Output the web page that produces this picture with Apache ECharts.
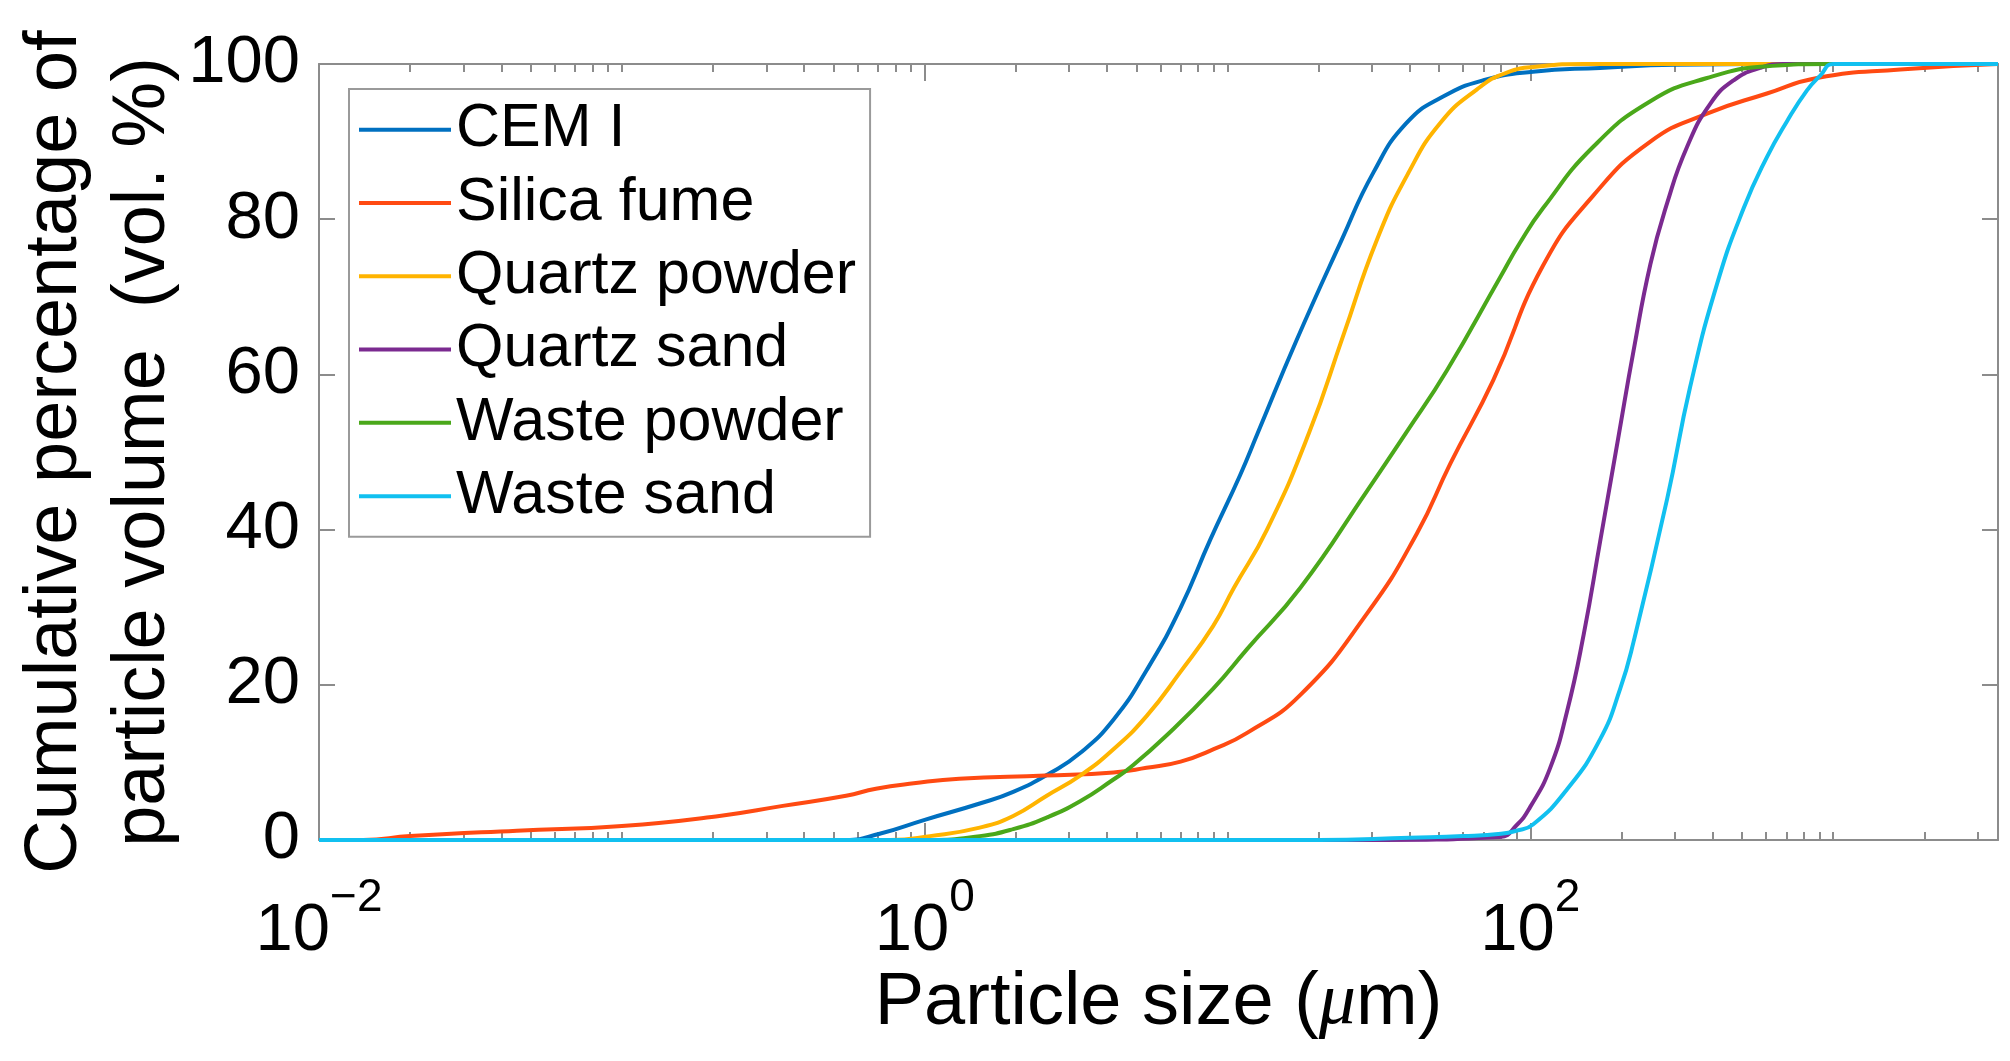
<!DOCTYPE html>
<html>
<head>
<meta charset="utf-8">
<title>Particle size distribution</title>
<style>
  html, body { margin: 0; padding: 0; background: #fff; }
  #chart { width: 2010px; height: 1061px; }
</style>
<script src="https://cdn.jsdelivr.net/npm/echarts@6/dist/echarts.min.js"></script>
</head>
<body>
<div id="chart"></div>
<script>
// axis ranges and ticks
const xMin = 0.01;
const xMax = 3500;
const xLabelExps = [-2, 0, 2];
const decades = [0.01, 0.1, 1, 10, 100, 1000];
const multipliers = [1, 2, 3, 4, 5, 6, 7, 8, 9];
const yTicks = [0, 20, 40, 60, 80, 100];

const seriesNames = ['CEM I', 'Silica fume', 'Quartz powder', 'Quartz sand', 'Waste powder', 'Waste sand'];
const seriesColors = ['#0070c0', '#ff4a12', '#ffb400', '#7b2a90', '#4aa81a', '#11c0f0'];

// particle size (um) / cumulative volume (%)
const cemSize = [0.01, 0.3, 0.55, 0.71, 1.0, 1.52, 1.96, 2.59, 3.26, 4.2, 5.41, 6.97, 8.77, 11.0, 12.6, 16.9, 23.8, 30.3, 39, 51.5, 70, 102, 170, 300, 1000, 3500];
const cemPct = [0, 0, 0, 0.8, 2.6, 4.7, 6.2, 8.6, 11.2, 15.5, 21.9, 29.8, 38.7, 47, 52.5, 64.4, 77.3, 86, 92.4, 95.8, 97.9, 99, 99.5, 99.9, 100, 100];

const silicaSize = [0.01, 0.014, 0.02, 0.045, 0.1, 0.21, 0.34, 0.55, 0.69, 0.92, 1.3, 2.5, 4.2, 5.4, 7.0, 9.0, 11.6, 17.4, 28.9, 42.2, 54.4, 75.5, 110, 161, 249, 383, 604, 884, 1665, 3500];
const silicaPct = [0, 0, 0.5, 1.2, 1.8, 3.1, 4.4, 5.7, 6.6, 7.3, 7.9, 8.3, 8.7, 9.3, 10.1, 11.7, 13.8, 18.7, 29.2, 39.5, 48.5, 59.3, 74, 83, 90.0, 93.6, 96.2, 98.2, 99.3, 100];

const qPowderSize = [0.01, 0.4, 0.77, 1.04, 1.52, 1.96, 2.53, 3.26, 4.2, 5.41, 6.97, 8.97, 10.5, 13.5, 18.6, 24.1, 31.1, 39.6, 50.4, 66.5, 83.6, 108, 150, 500, 3500];
const qPowderPct = [0, 0, 0, 0.5, 1.6, 3.1, 5.7, 8.3, 11.7, 16.0, 21.6, 27.6, 32.5, 40, 52.5, 65, 77.3, 86, 92.4, 96.7, 98.9, 99.7, 100, 100, 100];

const qSandSize = [0.01, 30, 79.4, 90, 100, 116, 132, 150, 170, 195, 219, 249, 283, 329, 393, 469, 574, 685, 1500, 3500];
const qSandPct = [0, 0, 0.4, 1.9, 4.3, 9.2, 16.5, 26.5, 38.5, 51.8, 63, 74.2, 82.1, 89.3, 94.9, 97.9, 99.5, 100, 100, 100];

const wPowderSize = [0.01, 0.5, 1.04, 1.52, 1.96, 2.53, 3.26, 4.2, 4.76, 6.3, 8.97, 11.6, 17.4, 28.9, 38.9, 53, 79.4, 92.5, 110, 161, 249, 383, 604, 977, 2000, 3500];
const wPowderPct = [0, 0, 0, 0.5, 1.4, 2.9, 5.0, 7.8, 9.3, 13.5, 19.5, 24.6, 32.5, 45, 52.5, 60.5, 72.5, 77, 81.4, 89.3, 95.2, 98.2, 99.7, 100, 100, 100];

const wSandSize = [0.01, 10, 20, 40, 60, 80, 90, 102, 132, 170, 198, 219, 283, 337, 413, 506, 604, 703, 819, 906, 1000, 2000, 3500];
const wSandPct = [0, 0, 0, 0.3, 0.5, 0.8, 1.2, 2.0, 6.5, 13, 19.5, 25.5, 44, 58.4, 71.6, 81.4, 88.0, 92.6, 96.6, 98.5, 100, 100, 100];

const sizes = [cemSize, silicaSize, qPowderSize, qSandSize, wPowderSize, wSandSize];
const pcts = [cemPct, silicaPct, qPowderPct, qSandPct, wPowderPct, wSandPct];

const font = '"Liberation Sans", Arial, Helvetica, sans-serif';
const axisGray = '#8c8c8c';

// tick positions on the helper axes are in exponent space
const expMin = Math.log10(xMin);
const expMax = Math.log10(xMax);
const minorExps = [];
decades.forEach(d => multipliers.forEach(m => {
  const e = Math.log10(d * m);
  if (e >= expMin - 1e-9 && e <= expMax + 1e-9) minorExps.push(e);
}));

function tickAxis(position, exps, len, withLine) {
  return {
    type: 'value', min: expMin, max: expMax, position: position,
    nameMoveOverlap: false,
    axisLine: { show: withLine, onZero: false, lineStyle: { color: axisGray, width: 2 } },
    axisTick: { show: true, inside: true, length: len, customValues: exps, lineStyle: { color: axisGray, width: 2 } },
    axisLabel: { show: false },
    splitLine: { show: false }
  };
}

function yFrame(position) {
  return {
    type: 'value', min: yTicks[0], max: yTicks[yTicks.length - 1], interval: 20, position: position,
    nameMoveOverlap: false,
    axisLine: { show: true, onZero: false, lineStyle: { color: axisGray, width: 2 } },
    axisTick: { show: true, inside: true, length: 16, lineStyle: { color: axisGray, width: 2 } },
    axisLabel: { show: false },
    splitLine: { show: false }
  };
}

const bottomMajor = tickAxis('bottom', xLabelExps, 17, false);
bottomMajor.axisLabel = {
  show: true,
  customValues: xLabelExps,
  margin: 35,
  formatter: v => '{b|10}{s|' + (v < 0 ? '\u2212' : '') + Math.abs(Math.round(v)) + '}',
  rich: {
    b: { fontSize: 67, lineHeight: 90, fontFamily: font, color: '#000', verticalAlign: 'bottom' },
    s: { fontSize: 46, lineHeight: 46, fontFamily: font, color: '#000', verticalAlign: 'top' }
  }
};
bottomMajor.name = '{n|Particle size (}{m|\u03bc}{n|m)}';
bottomMajor.nameLocation = 'middle';
bottomMajor.nameGap = 127;
bottomMajor.nameTextStyle = {
  fontSize: 74, lineHeight: 74, color: '#000', fontFamily: font,
  rich: {
    n: { fontSize: 74, lineHeight: 74, color: '#000', fontFamily: font },
    m: { fontSize: 74, lineHeight: 74, color: '#000', fontFamily: '"Liberation Serif", "DejaVu Serif", serif', fontStyle: 'italic' }
  }
};

const leftAxis = yFrame('left');
leftAxis.axisLabel = { show: true, fontSize: 67, color: '#000', margin: 19, fontFamily: font };
leftAxis.name = 'Cumulative percentage of\nparticle volume  (vol. %)';
leftAxis.nameLocation = 'middle';
leftAxis.nameRotate = 90;
leftAxis.nameGap = 131;
leftAxis.nameTextStyle = { fontSize: 74, lineHeight: 88, color: '#000', fontFamily: font, align: 'center' };

const chart = echarts.init(document.getElementById('chart'));

chart.setOption({
  animation: false,
  backgroundColor: '#fff',
  grid: { left: 319, right: 12, top: 64, bottom: 221, containLabel: false, outerBoundsMode: 'none' },
  legend: {
    data: seriesNames,
    orient: 'vertical',
    left: 349,
    top: 89,
    icon: 'rect',
    itemWidth: 92,
    itemHeight: 4,
    itemGap: 0,
    padding: [4, 14, 4, 10],
    borderColor: '#9a9a9a',
    borderWidth: 2,
    backgroundColor: '#fff',
    selectedMode: false,
    textStyle: { fontSize: 61, lineHeight: 73.3, color: '#000', fontFamily: font }
  },
  xAxis: [
    {
      type: 'log', logBase: 10, min: xMin, max: xMax, position: 'bottom',
      nameMoveOverlap: false,
      axisLine: { show: true, onZero: false, lineStyle: { color: axisGray, width: 2 } },
      axisTick: { show: false }, axisLabel: { show: false },
      splitLine: { show: false }, minorTick: { show: false }, minorSplitLine: { show: false }
    },
    tickAxis('bottom', minorExps, 8, false),
    bottomMajor,
    tickAxis('top', minorExps, 8, true),
    tickAxis('top', xLabelExps, 17, false)
  ],
  yAxis: [leftAxis, yFrame('right')],
  series: seriesNames.map((name, i) => ({
    name: name,
    type: 'line',
    xAxisIndex: 0,
    yAxisIndex: 0,
    data: sizes[i].map((s, j) => [s, pcts[i][j]]),
    symbol: 'none',
    smooth: 0.5,
    lineStyle: { width: 4, color: seriesColors[i] },
    itemStyle: { color: seriesColors[i] }
  }))
});
</script>
</body>
</html>
